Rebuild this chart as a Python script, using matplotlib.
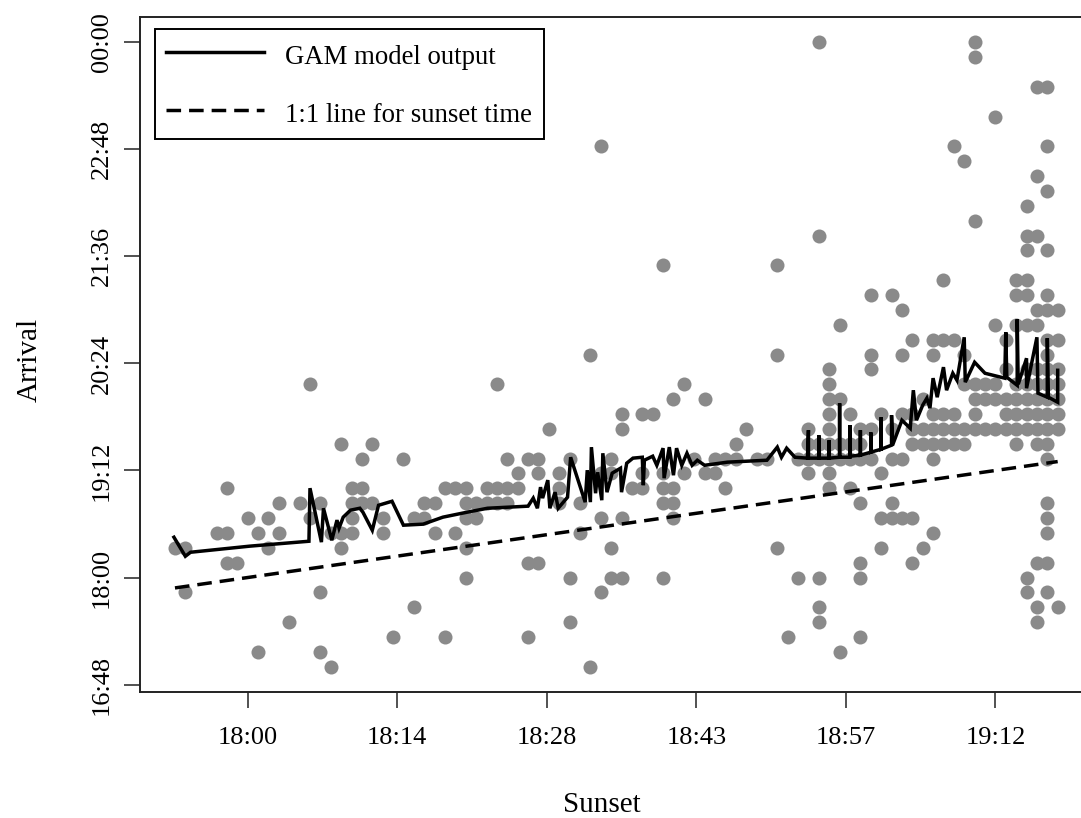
import numpy as np
import matplotlib
matplotlib.use("Agg")
import matplotlib.pyplot as plt

plt.rcParams['font.family'] = ['Liberation Serif', 'DejaVu Serif']

# sunset time (one entry per day) and observed arrival times for that day
sunset = ["17:53", "17:54", "17:57", "17:58", "17:59", "18:00", "18:01", "18:02",
          "18:03", "18:04", "18:05", "18:06", "18:07", "18:08", "18:09", "18:10",
          "18:11", "18:12", "18:13", "18:14", "18:15", "18:16", "18:17", "18:18",
          "18:19", "18:20", "18:21", "18:22", "18:23", "18:24", "18:25", "18:26",
          "18:27", "18:28", "18:29", "18:30", "18:31", "18:32", "18:33", "18:34",
          "18:35", "18:36", "18:37", "18:38", "18:39", "18:40", "18:41", "18:42",
          "18:43", "18:44", "18:45", "18:46", "18:47", "18:48", "18:49", "18:50",
          "18:51", "18:52", "18:53", "18:54", "18:55", "18:56", "18:57", "18:58",
          "18:59", "19:00", "19:01", "19:02", "19:03", "19:04", "19:05", "19:06",
          "19:07", "19:08", "19:09", "19:10", "19:11", "19:12", "19:13", "19:14",
          "19:15", "19:16", "19:17", "19:18"]

arrivals = [
    ["18:20"], ["18:20", "17:50"], ["18:30"], ["19:00", "18:30", "18:10"], ["18:10"],
    ["18:40"], ["18:30", "17:10"], ["18:40", "18:20"], ["18:50", "18:30"], ["17:30"],
    ["18:50"], ["20:10", "18:40"], ["18:50", "17:50", "17:10"], ["18:30", "17:00"],
    ["19:30", "18:30", "18:20"], ["19:00", "18:50", "18:40", "18:30"],
    ["19:20", "19:00", "18:50"], ["19:30", "18:50"], ["18:40", "18:30"], ["17:20"],
    ["19:20"], ["18:40", "17:40"], ["18:50", "18:40"], ["18:50", "18:30"],
    ["19:00", "17:20"], ["19:00", "18:30"], ["19:00", "18:50", "18:40", "18:20", "18:00"],
    ["18:50", "18:40"], ["19:00", "18:50"], ["20:10", "19:00", "18:50"],
    ["19:20", "19:00", "18:50"], ["19:10", "19:00"], ["19:20", "18:10", "17:20"],
    ["19:20", "19:10", "18:10"], ["19:40"], ["19:10", "19:00", "18:50"],
    ["19:20", "18:00", "17:30"], ["18:50", "18:30"], ["20:30", "17:00"],
    ["22:50", "19:10", "18:40", "17:50"], ["19:20", "19:10", "18:20", "18:00"],
    ["19:50", "19:40", "18:40", "18:00"], ["19:00"], ["19:50", "19:10", "19:00"],
    ["19:50"], ["21:30", "19:10", "19:00", "18:50", "18:00"],
    ["20:00", "19:00", "18:50", "18:40"], ["20:10", "19:10"], ["19:20"],
    ["20:00", "19:10"], ["19:20", "19:10"], ["19:20", "19:00"], ["19:30", "19:20"],
    ["19:40"], ["19:20"], ["19:20"], ["21:30", "20:30", "18:20"], ["17:20"],
    ["19:20", "18:00"], ["19:40", "19:30", "19:20", "19:10"],
    ["00:00", "21:50", "19:30", "19:20", "18:00", "17:40", "17:30"],
    ["20:20", "20:10", "20:00", "19:50", "19:40", "19:30", "19:20", "19:10", "19:00"],
    ["20:50", "20:00", "19:30", "19:20", "17:10"],
    ["19:50", "19:30", "19:20", "19:00"],
    ["19:40", "19:30", "19:20", "18:50", "18:10", "18:00", "17:20"],
    ["21:10", "20:30", "20:20", "19:40", "19:20"],
    ["19:50", "19:10", "18:40", "18:20"],
    ["21:10", "19:40", "19:20", "18:50", "18:40"],
    ["21:00", "20:30", "19:50", "19:20", "18:40"],
    ["20:40", "19:50", "19:40", "19:30", "18:40", "18:10"],
    ["20:00", "19:40", "19:30", "18:20"],
    ["20:40", "20:30", "19:50", "19:40", "19:30", "19:20", "18:30"],
    ["21:20", "20:40", "19:50", "19:40", "19:30"],
    ["22:50", "20:40", "19:50", "19:40", "19:30"],
    ["22:40", "20:30", "20:10", "19:40", "19:30"],
    ["00:00", "23:50", "22:00", "20:10", "20:00", "19:50", "19:40"],
    ["20:10", "20:00", "19:40"],
    ["23:10", "20:50", "20:10", "20:00", "19:40"],
    ["20:40", "20:20", "20:00", "19:50", "19:40"],
    ["21:20", "21:10", "20:50", "20:10", "20:00", "19:50", "19:40", "19:30"],
    ["22:10", "21:50", "21:40", "21:20", "21:10", "20:50", "20:20", "20:10", "20:00",
     "19:50", "19:40", "18:00", "17:50"],
    ["23:30", "22:30", "21:50", "21:00", "20:50", "20:20", "20:10", "20:00", "19:50",
     "19:40", "19:30", "18:10", "17:40", "17:30"],
    ["23:30", "22:50", "22:20", "21:40", "21:10", "21:00", "20:40", "20:30", "20:20",
     "20:10", "20:00", "19:50", "19:40", "19:30", "19:20", "18:50", "18:40", "18:30",
     "18:10", "17:50"],
    ["21:00", "20:40", "20:20", "20:10", "20:00", "19:50", "19:40", "17:40"],
]

# GAM fitted values, in data order (minutes after midnight)
gam_sunset = [1072.9, 1074.0, 1074.5, 1080.2, 1085.9, 1086.0, 1087.1, 1087.3, 1088.1,
              1088.6, 1088.8, 1089.2, 1089.9, 1090.8, 1091.1, 1092.0, 1092.6, 1093.9,
              1095.0, 1096.9, 1098.8, 1101.1, 1103.1, 1107.0, 1107.5, 1107.9, 1108.2,
              1108.4, 1108.9, 1109.1, 1109.6, 1109.9, 1110.8, 1111.1, 1112.5, 1112.7,
              1113.0, 1113.1, 1113.5, 1113.7, 1114.1, 1114.2, 1114.6, 1115.1, 1115.9,
              1116.0, 1116.5, 1117.1, 1118.0, 1118.1, 1118.2, 1119.0, 1119.4, 1120.0,
              1120.1, 1120.6, 1121.0, 1121.3, 1121.8, 1122.3, 1122.8, 1123.3, 1124.0,
              1126.2, 1130.0, 1131.0, 1131.4, 1131.9, 1132.7, 1133.9,
              1134, 1134, 1135, 1135, 1135, 1136, 1136, 1136, 1137, 1137, 1137,
              1138, 1138, 1138, 1139, 1139, 1139, 1140, 1140, 1140, 1141, 1141, 1141,
              1142, 1142, 1142.1, 1143.0, 1143.8, 1144.1, 1144.4, 1145.0, 1145.4,
              1145.7, 1146.0, 1146.4, 1147.0, 1147.3, 1147.9, 1148.3, 1149.0, 1149.1,
              1150.0, 1151.0, 1152.9, 1153.0, 1153.1, 1154.1, 1154.1, 1154.2, 1155.0,
              1155.0, 1156.0, 1156.1, 1157.0, 1157.0, 1157.1, 1158.0, 1158.0]
gam_arrival = [1107.1, 1094.3, 1097.0, 1101.1, 1104.4, 1140.1, 1103.8, 1126.6, 1105.1,
               1118.6, 1113.2, 1120.6, 1125.3, 1126.6, 1123.9, 1111.8, 1128.6, 1131.3,
               1115.2, 1115.9, 1120.6, 1123.9, 1126.6, 1128.0, 1133.4, 1126.6, 1140.8,
               1133.4, 1145.5, 1126.6, 1137.4, 1126.6, 1134.0, 1160.9, 1130.7, 1152.2,
               1130.7, 1167.7, 1136.7, 1150.8, 1132.0, 1163.6, 1137.4, 1150.2, 1153.5,
               1137.4, 1156.9, 1160.3, 1160.9, 1142.1, 1158.9, 1161.6, 1155.5, 1167.0,
               1146.8, 1167.7, 1148.8, 1167.0, 1155.5, 1163.6, 1155.5, 1158.9, 1155.5,
               1157.6, 1158.9, 1167.7, 1160.9, 1167.0, 1160.9, 1160.3,
               1179.1, 1160.3, 1160.3, 1175.7, 1160.3, 1160.3, 1172.4, 1160.3,
               1160.9, 1197.2, 1160.9, 1160.9, 1182.4, 1161.6, 1162.3, 1179.1, 1162.3,
               1164.3, 1177.7, 1164.3, 1166.3, 1187.8, 1166.3, 1169.0, 1189.2, 1169.0,
               1185.8, 1180.4, 1206.0, 1185.8, 1195.9, 1200.6, 1193.9, 1214.1, 1201.3,
               1221.5, 1206.0, 1217.4, 1212.7, 1241.6, 1211.4, 1224.8, 1217.4, 1214.1,
               1245.0, 1214.7, 1209.3, 1253.7, 1210.0, 1227.5, 1207.3, 1241.6, 1204.0,
               1201.3, 1241.0, 1201.3, 1197.9, 1219.4]

x_ticklabels = ["18:00", "18:14", "18:28", "18:43", "18:57", "19:12"]
y_ticklabels = ["16:48", "18:00", "19:12", "20:24", "21:36", "22:48", "00:00"]


def to_min(s):
    h, m = s.split(":")
    h = int(h)
    if h == 0:
        h = 24
    return h * 60 + int(m)


pt_x = []
pt_y = []
for day, times in zip(sunset, arrivals):
    for t in times:
        pt_x.append(to_min(day))
        pt_y.append(to_min(t))

fig = plt.figure(figsize=(10.81, 8.18), dpi=100)
ax = fig.add_axes([0.1292, 0.1544, 0.8819, 0.8244])

ax.scatter(pt_x, pt_y, s=102, color="#8a8a8a", linewidths=0, zorder=1)
ax.plot(gam_sunset, gam_arrival, color="black", lw=2.5, solid_joinstyle="miter",
        zorder=3, label="GAM model output")
sx = [min(pt_x), max(pt_x)]
ax.plot(sx, sx, color="black", lw=2.5, dashes=(4.2, 2.3), zorder=3,
        label="1:1 line for sunset time")

ax.set_xlim(1069.6, 1161.4)
ax.set_ylim(1003.2, 1456.8)
ax.set_xticks([1080 + 14.4 * i for i in range(len(x_ticklabels))])
ax.set_xticklabels(x_ticklabels)
ax.set_yticks([1008 + 72 * i for i in range(len(y_ticklabels))])
ax.set_yticklabels(y_ticklabels, rotation=90, va="center")

ax.tick_params(axis="both", direction="out", length=11.5, width=1.1,
               labelsize=19, color="#222222")
ax.tick_params(axis="x", pad=14)
ax.tick_params(axis="y", pad=8)
for sp in ax.spines.values():
    sp.set_linewidth(1.4)
    sp.set_color("#222222")

leg = ax.legend(loc="upper left", bbox_to_anchor=(0.016, 0.9827), fontsize=19.3,
                frameon=True, fancybox=False, framealpha=1, edgecolor="black",
                borderpad=0.42, labelspacing=1.05, handlelength=3.65,
                handleheight=1.3, handletextpad=0.8, borderaxespad=0)
leg.get_frame().set_linewidth(1.4)

fig.text(602 / 1081, 1 - 805 / 818, "Sunset", ha="center", va="center", fontsize=21)
fig.text(30 / 1081, 1 - 360 / 818, "Arrival", ha="center", va="center",
         rotation=90, fontsize=21)

fig.savefig("out.png", dpi=100)
